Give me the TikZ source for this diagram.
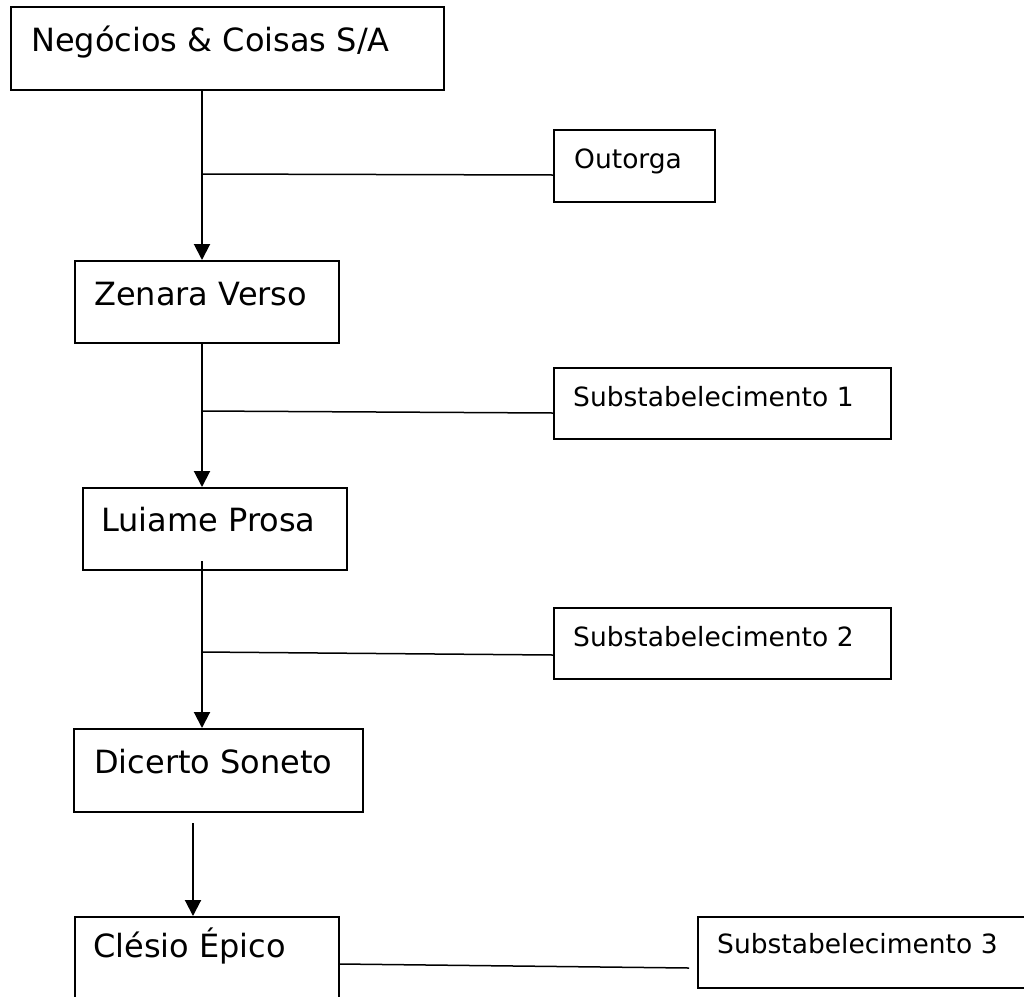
\documentclass[tikz,border=0pt]{standalone}
\usepackage{fontspec}
\setmainfont{DejaVu Sans}
\usetikzlibrary{arrows.meta,calc}
\begin{document}
\begin{tikzpicture}[x=1pt,y=-1pt,
  box/.style={draw=black, line width=2pt, inner sep=0pt, anchor=north west},
  big/.style={inner sep=0pt, anchor=base west, font=\fontsize{32}{38}\selectfont},
  small/.style={inner sep=0pt, anchor=base west, font=\fontsize{26.5}{31}\selectfont},
  flow/.style={line width=2pt, -{Triangle[width=16pt,length=16pt]}},
  link/.style={line width=1.5pt}]
\useasboundingbox (0,0) rectangle (1024,996);
\fill[white] (0,0) rectangle (1024,996);

% boxes
\node[box, minimum width=433pt, minimum height=83pt] (neg) at (10,6) {};
\node[big] (negt) at (31,51) {Negócios \& Coisas S/A};

\node[box, minimum width=161pt, minimum height=72pt] (out) at (553,129) {};
\node[small] (outt) at (574,168) {Outorga};

\node[box, minimum width=264pt, minimum height=82pt] (zen) at (74,260) {};
\node[big] (zent) at (94,305) {Zenara Verso};

\node[box, minimum width=337pt, minimum height=71pt] (s1) at (553,367) {};
\node[small] (s1t) at (573,406) {Substabelecimento 1};

\node[box, minimum width=264pt, minimum height=82pt] (lui) at (82,487) {};
\node[big] (luit) at (101,531) {Luiame Prosa};

\node[box, minimum width=337pt, minimum height=71pt] (s2) at (553,607) {};
\node[small] (s2t) at (573,646) {Substabelecimento 2};

\node[box, minimum width=289pt, minimum height=83pt] (dic) at (73,728) {};
\node[big] (dict) at (94,773) {Dicerto Soneto};

\node[box, minimum width=264pt, minimum height=100pt] (cle) at (74,916) {};
\node[big] (clet) at (93,957) {Clésio Épico};

\node[box, minimum width=340pt, minimum height=71pt] (s3) at (697,916) {};
\node[small] (s3t) at (717,953) {Substabelecimento 3};

% arrows
\draw[flow] ($(neg.south west)+(192,0)$) -- ($(zen.north west)+(128,0)$);
\draw[flow] ($(zen.south west)+(128,0)$) -- ($(lui.north west)+(120,0)$);
\draw[flow] ($(lui.south west)+(120,-10)$) -- ($(dic.north west)+(129,0)$);
\draw[flow] ($(dic.south west)+(120,10)$) -- ($(cle.north west)+(119,0)$);

% links
\draw[link] ($(neg.south west)+(192,83)$) -- ($(out.north west)+(0,46)$);
\draw[link] ($(zen.south west)+(128,67)$) -- ($(s1.north west)+(0,46)$);
\draw[link] ($(lui.south west)+(120,81)$) -- ($(s2.north west)+(0,48)$);
\coordinate (s3in) at ($(s3.north west)+(-8,52)$);
\draw[link] ($(cle.north east)+(0,48)$) -- (s3in);
\end{tikzpicture}
\end{document}
